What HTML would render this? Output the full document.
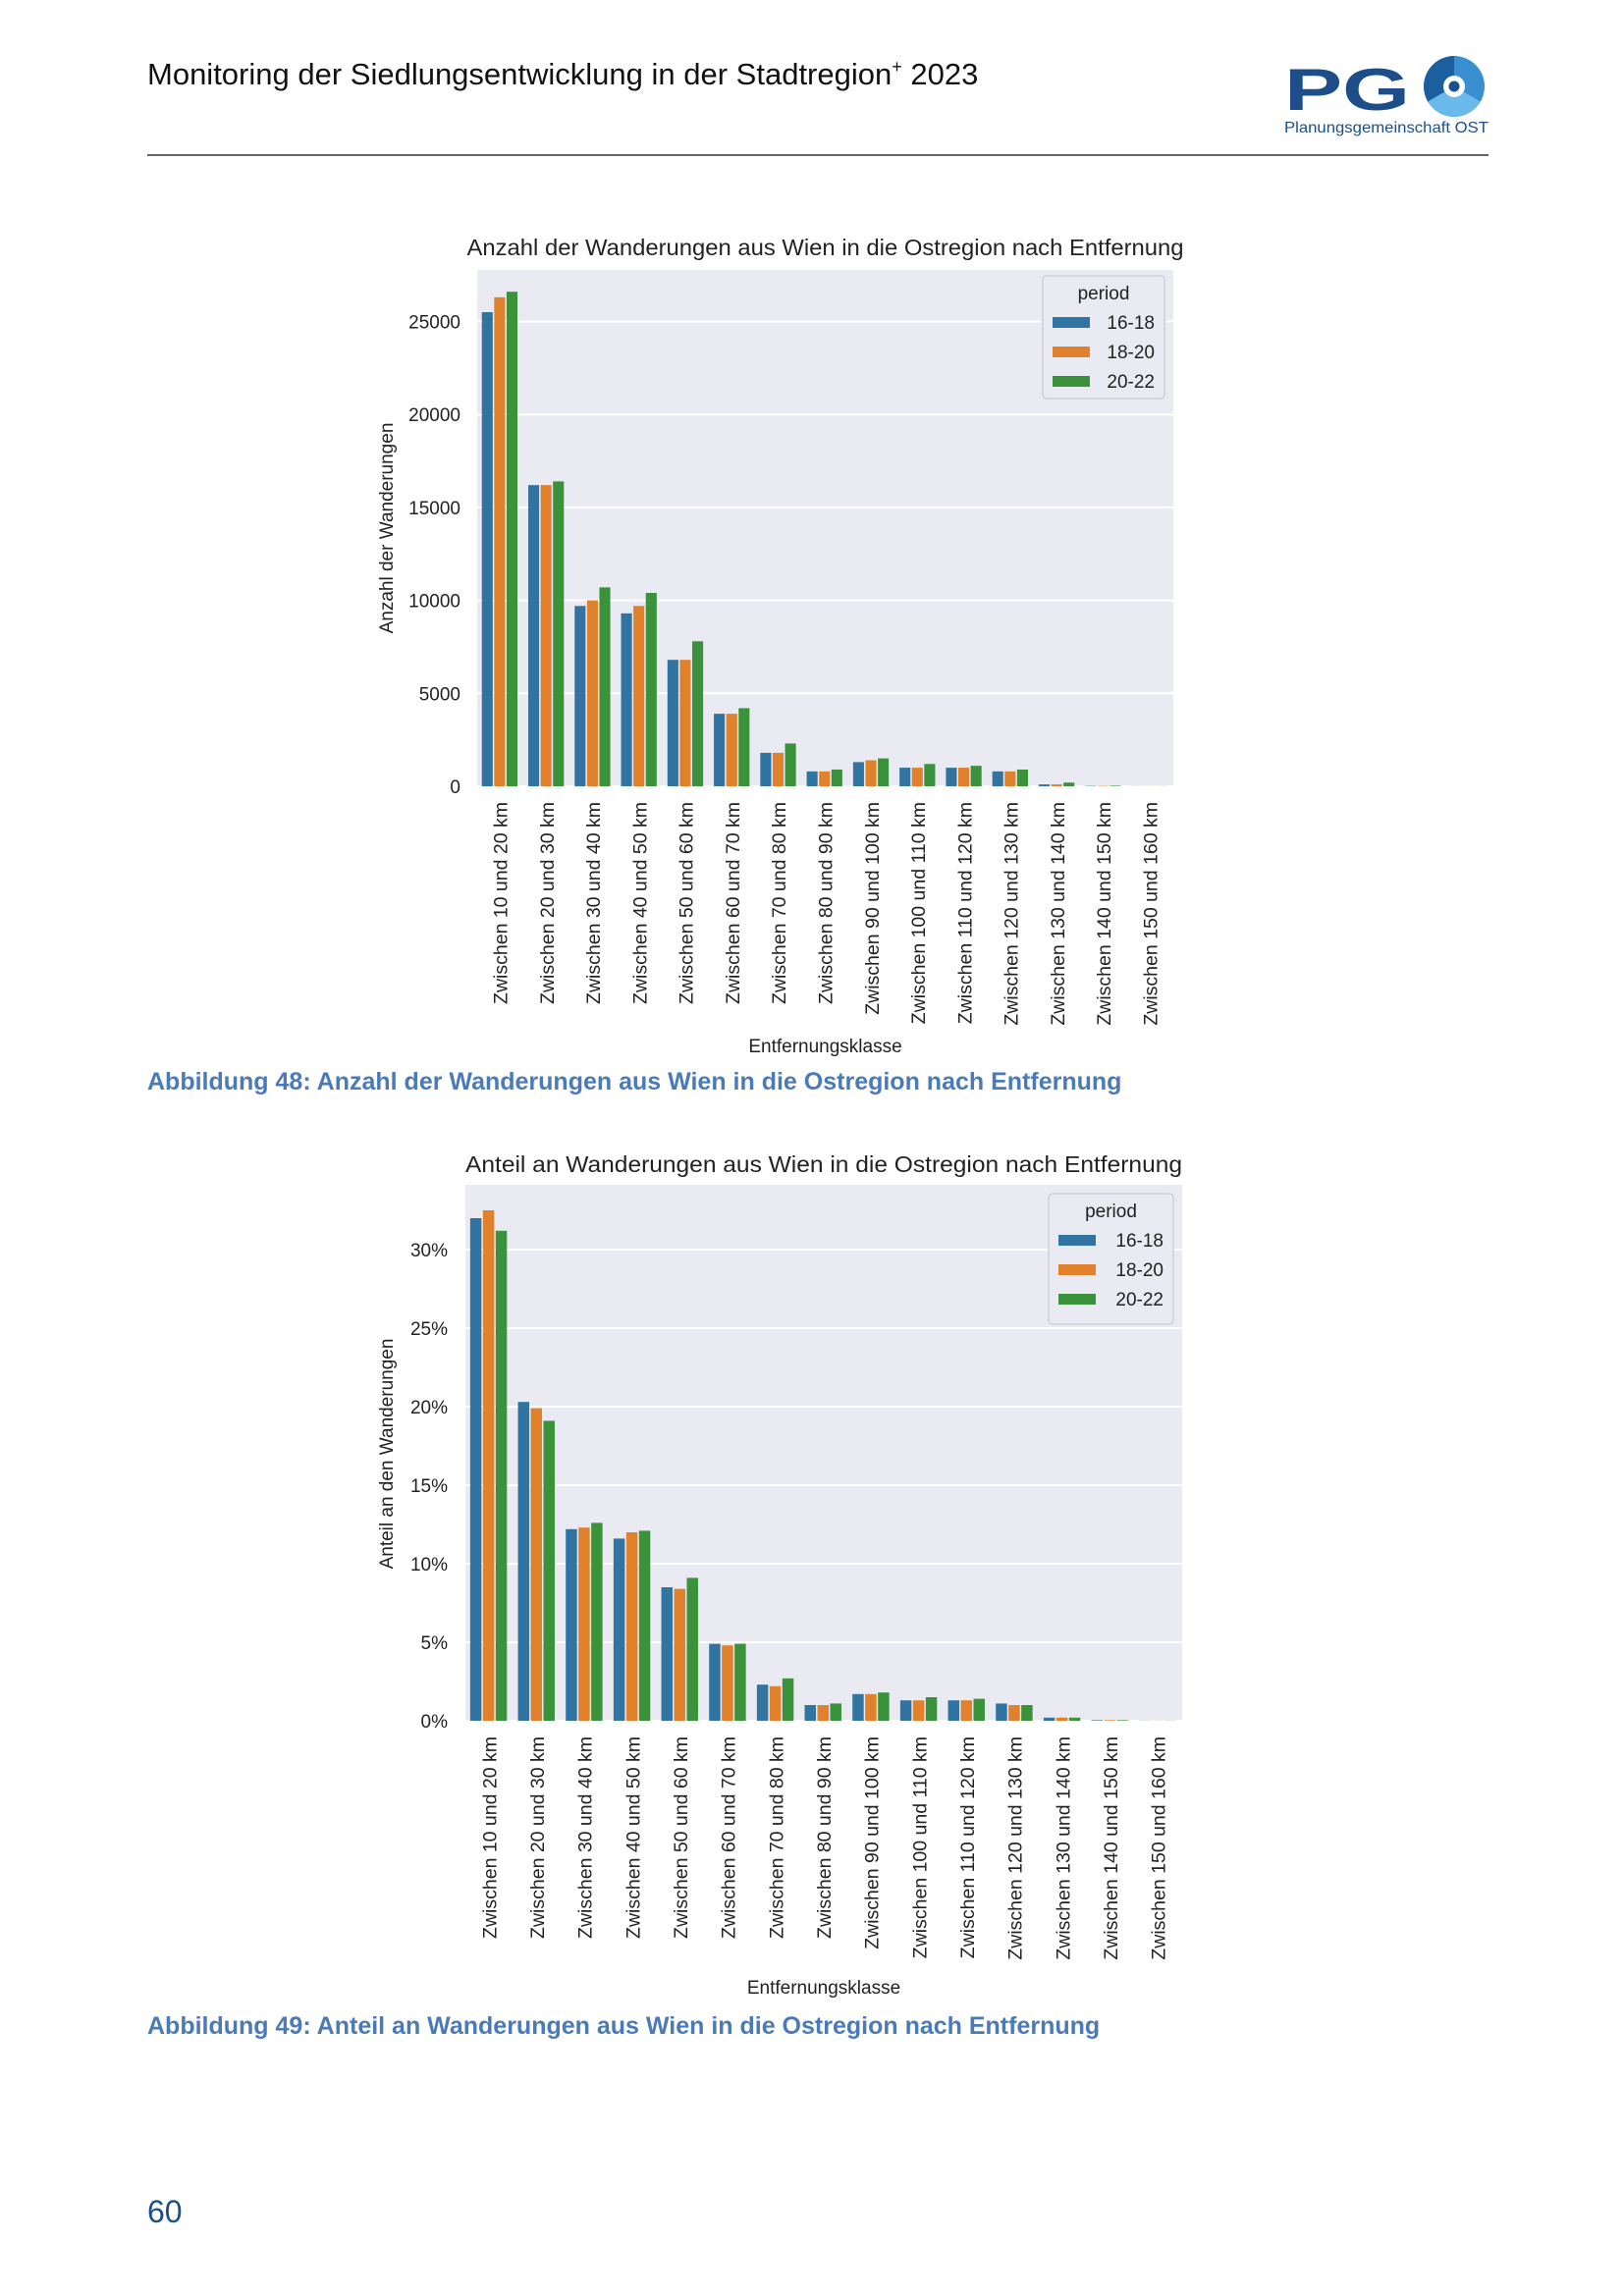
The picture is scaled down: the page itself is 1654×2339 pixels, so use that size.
<!DOCTYPE html>
<html><head><meta charset="utf-8"><style>
html,body{margin:0;padding:0;background:#fff;}
svg{display:block;font-family:"Liberation Sans",Arial,sans-serif;}
</style></head><body>
<svg id="s" width="1654" height="2339" xmlns="http://www.w3.org/2000/svg">
<rect width="1654" height="2339" fill="#fff"/>
<text x="150" y="86" font-size="31" fill="#111">Monitoring der Siedlungsentwicklung in der Stadtregion<tspan font-size="18" dy="-12">+</tspan><tspan dy="12"> 2023</tspan></text>
<line x1="150" y1="158" x2="1516" y2="158" stroke="#333" stroke-width="1.5"/>
<g>
<text x="1308" y="112" font-size="60" font-weight="bold" fill="#1d4e89" textLength="128" lengthAdjust="spacingAndGlyphs">PG</text>
<circle cx="1481" cy="88" r="31" fill="#3a8fd0"/>
<path d="M1481 88 L1481 57 A31 31 0 0 0 1454.2 103.5 Z" fill="#1b5f9e"/>
<path d="M1481 88 L1507.8 103.5 A31 31 0 0 1 1454.2 103.5 Z" fill="#6bb8ea"/>
<circle cx="1481" cy="88" r="11" fill="#fff"/>
<circle cx="1481" cy="88" r="5.5" fill="#1b4f8a"/>
<text x="1308" y="135" font-size="16" fill="#1d4e89" textLength="208" lengthAdjust="spacingAndGlyphs">Planungsgemeinschaft OST</text>
</g>
<g id="c1"></g><g id="c2"></g>
<text x="150" y="1110" font-size="25" font-weight="bold" fill="#4a7ab8">Abbildung 48: Anzahl der Wanderungen aus Wien in die Ostregion nach Entfernung</text>
<text x="150" y="2072" font-size="25" font-weight="bold" fill="#4a7ab8">Abbildung 49: Anteil an Wanderungen aus Wien in die Ostregion nach Entfernung</text>
<text x="150" y="2264" font-size="32" fill="#1b4f8a">60</text>
</svg>
<script>
var NS="http://www.w3.org/2000/svg";
function el(p,t,a,txt){var e=document.createElementNS(NS,t);for(var k in a)e.setAttribute(k,a[k]);if(txt!==undefined)e.textContent=txt;p.appendChild(e);return e;}
var cats=[];for(var i=1;i<=15;i++)cats.push("Zwischen "+(i*10)+" und "+(i*10+10)+" km");
var col=["#3274a1","#e1812c","#3a923a"];
function chart(g,o){
 var L=o.L,R=o.R,T=o.T,B=o.B;
 el(g,"rect",{x:L,y:T,width:R-L,height:B-T,fill:"#eaeaf2"});
 o.ticks.forEach(function(t){var y=B-t[0]*o.ppu;
  el(g,"line",{x1:L,x2:R,y1:y,y2:y,stroke:"#fff","stroke-width":2});
  el(g,"text",{x:o.tx,y:y+7,"font-size":19,"text-anchor":"end",fill:"#222"},t[1]);});
 el(g,"text",{x:(L+R)/2,y:o.titleY,"font-size":23,"text-anchor":"middle",fill:"#222",textLength:730,lengthAdjust:"spacingAndGlyphs"},o.title);
 var gw=(R-L)/15,bw=gw*0.8/3;
 o.data.forEach(function(d,i){var x0=L+i*gw+gw*0.1;
  d.forEach(function(v,j){var h=v*o.ppu;el(g,"rect",{x:x0+j*bw,y:B-h,width:bw-1.5,height:h,fill:col[j]});});
  var cx=L+(i+0.5)*gw+7;
  el(g,"text",{x:0,y:0,"font-size":19.5,"text-anchor":"end",fill:"#222",transform:"translate("+cx+","+(B+16)+") rotate(-90)"},cats[i]);});
 el(g,"text",{x:0,y:0,"font-size":19,"text-anchor":"middle",fill:"#222",transform:"translate("+(o.yl+6)+","+o.ylY+") rotate(-90)"},o.ylab);
 el(g,"text",{x:(L+R)/2,y:o.xlY,"font-size":19,"text-anchor":"middle",fill:"#222"},"Entfernungsklasse");
 var lg=o.lg;
 el(g,"rect",{x:lg[0],y:lg[1],width:lg[2],height:lg[3],fill:"#eaeaf2",stroke:"#d0d0d8","stroke-width":1.5,rx:4});
 el(g,"text",{x:lg[0]+lg[2]/2,y:lg[1]+24,"font-size":19,"text-anchor":"middle",fill:"#222"},"period");
 ["16-18","18-20","20-22"].forEach(function(s,j){var y=lg[1]+47+j*30;
  el(g,"rect",{x:lg[0]+10,y:y-5,width:38,height:11,fill:col[j]});
  el(g,"text",{x:lg[0]+lg[2]-10,y:y+7,"font-size":19,"text-anchor":"end",fill:"#222"},s);});
}
chart(document.getElementById("c1"),{L:486,R:1195,T:275,B:801,ppu:94.7/5000,tx:469,titleY:260,
 title:"Anzahl der Wanderungen aus Wien in die Ostregion nach Entfernung",
 ticks:[[0,"0"],[5000,"5000"],[10000,"10000"],[15000,"15000"],[20000,"20000"],[25000,"25000"]],
 data:[[25500,26300,26600],[16200,16200,16400],[9700,10000,10700],[9300,9700,10400],[6800,6800,7800],[3900,3900,4200],[1800,1800,2300],[800,800,900],[1300,1400,1500],[1000,1000,1200],[1000,1000,1100],[800,800,900],[100,100,200],[20,20,30],[5,5,5]],
 yl:394,ylY:538,ylab:"Anzahl der Wanderungen",xlY:1072,lg:[1062,281,124,125]});
chart(document.getElementById("c2"),{L:474,R:1204,T:1207,B:1753,ppu:80/5,tx:456,titleY:1194,
 title:"Anteil an Wanderungen aus Wien in die Ostregion nach Entfernung",
 ticks:[[0,"0%"],[5,"5%"],[10,"10%"],[15,"15%"],[20,"20%"],[25,"25%"],[30,"30%"]],
 data:[[32.0,32.5,31.2],[20.3,19.9,19.1],[12.2,12.3,12.6],[11.6,12.0,12.1],[8.5,8.4,9.1],[4.9,4.8,4.9],[2.3,2.2,2.7],[1.0,1.0,1.1],[1.7,1.7,1.8],[1.3,1.3,1.5],[1.3,1.3,1.4],[1.1,1.0,1.0],[0.2,0.2,0.2],[0.04,0.04,0.04],[0.01,0.01,0.01]],
 yl:394,ylY:1481,ylab:"Anteil an den Wanderungen",xlY:2031,lg:[1068,1216,127,133]});
</script>
</body></html>
